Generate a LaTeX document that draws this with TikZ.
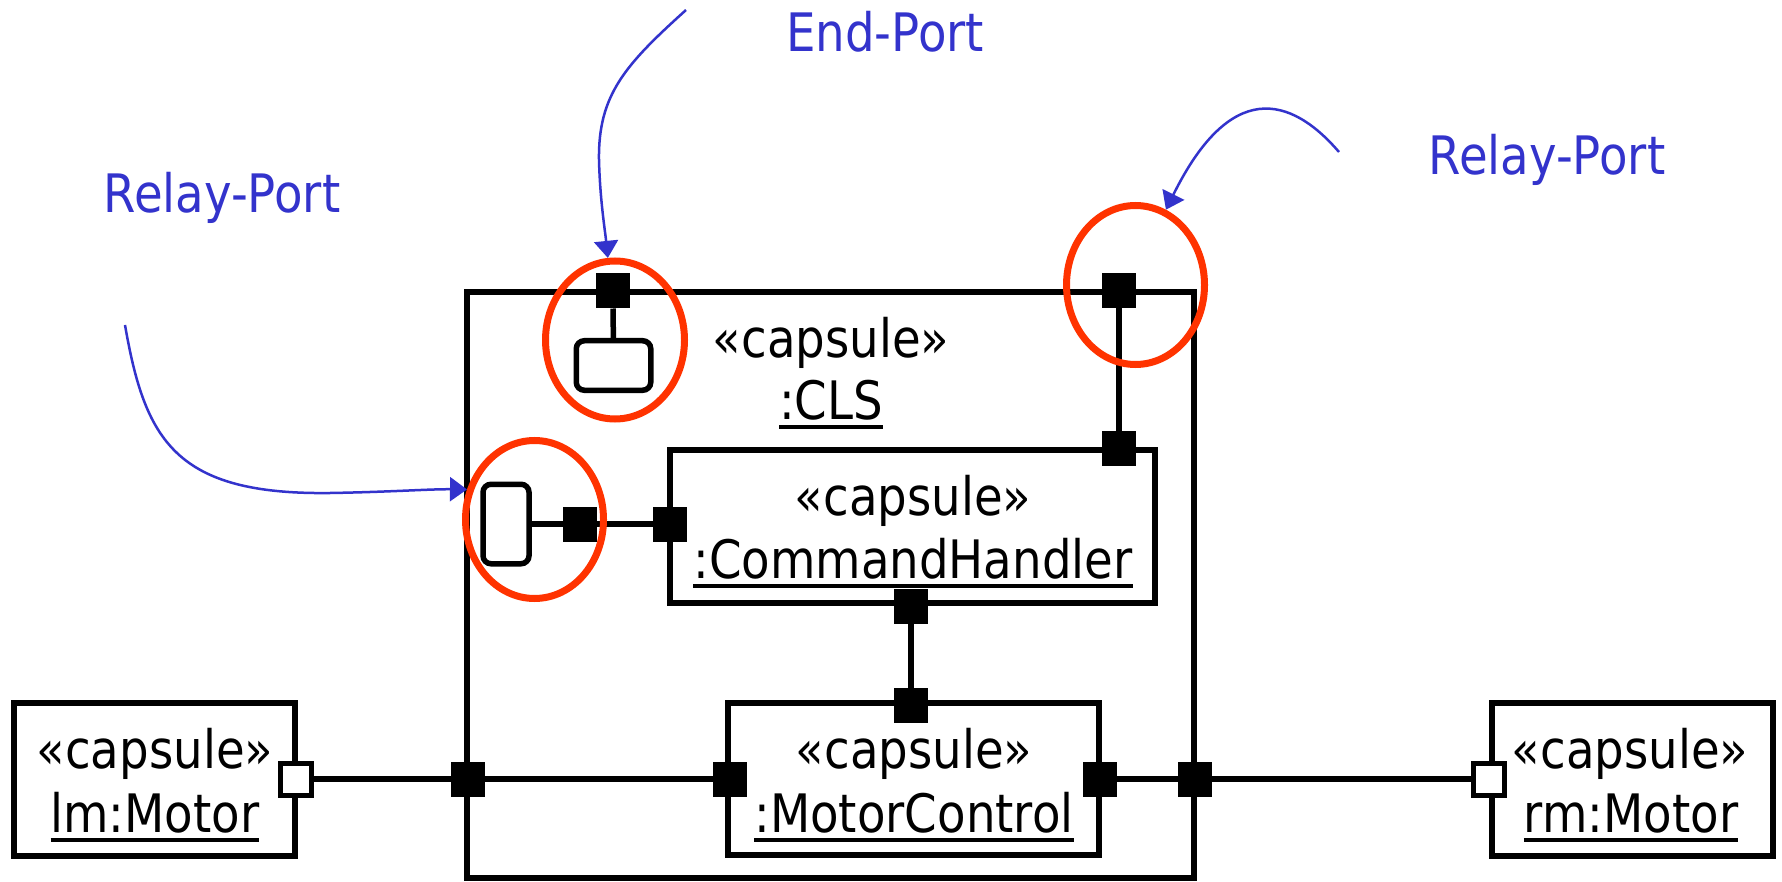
\documentclass[tikz,border=0pt]{standalone}
\usepackage{fontspec}
\setmainfont{DejaVu Sans}[FakeStretch=0.88]
\usetikzlibrary{arrows.meta,shapes.geometric}
\definecolor{annblue}{RGB}{51,51,204}
\definecolor{annred}{RGB}{255,51,0}
\newcommand\myul[1]{\vtop{\hbox{#1}\kern5.5pt\hrule height 4pt}}
\tikzset{
  capbox/.style={draw, line width=5.5pt, inner sep=0pt, outer sep=0pt},
  port/.style={fill=black, draw=none, inner sep=0pt, outer sep=0pt, minimum width=34pt, minimum height=35pt},
  wport/.style={fill=white, draw=black, line width=5pt, inner sep=0pt, outer sep=0pt, minimum width=31pt, minimum height=32pt},
  relaybox/.style={draw, line width=5.5pt, rounded corners=8pt, inner sep=0pt, outer sep=0pt},
  conn/.style={line width=5.5pt},
  redring/.style={ellipse, draw=annred, line width=7pt, inner sep=0pt},
  lbl/.style={anchor=base, inner sep=0pt, font=\fontsize{53}{63}\selectfont},
  note/.style={anchor=base, inner sep=0pt, text=annblue, font=\fontsize{53}{63}\selectfont},
  ann/.style={draw=annblue, line width=2.5pt, -{Triangle[length=17pt,width=24pt]}, fill=none},
}
\begin{document}
\begin{tikzpicture}[x=1pt,y=-1pt]
\path[fill=white] (0,0) rectangle (1782,882);
\useasboundingbox (0,0) rectangle (1782,882);

% capsule boxes
\node[capbox, minimum width=727pt, minimum height=586pt] (cls) at (830.5,585) {};
\node[capbox, minimum width=485pt, minimum height=153pt] (ch) at (912.5,526.5) {};
\node[capbox, minimum width=371pt, minimum height=152pt] (mc) at (913.5,779) {};
\node[capbox, minimum width=281pt, minimum height=153pt] (lm) at (154.5,779.5) {};
\node[capbox, minimum width=281pt, minimum height=153pt] (rm) at (1632.5,779.5) {};

% state-machine end boxes
\node[relaybox, minimum width=74.5pt, minimum height=49.5pt] (endsm) at (613.5,365.5) {};
\node[relaybox, minimum width=46pt, minimum height=79.5pt] (relsm) at (506,524) {};

% ports
\node[port] (pclsL) at (468,779) {};
\node[port] (pmcL) at (729.5,779) {};
\node[port] (pmcR) at (1100,779) {};
\node[port] (pclsR) at (1195,779) {};
\node[wport] (plm) at (296,779) {};
\node[wport] (prm) at (1489,779) {};
\node[port] (pchB) at (911,606) {};
\node[port] (pmcT) at (911,705) {};
\node[port] (pchT) at (1119,448) {};
\node[port] (pclsTR) at (1119,291) {};
\node[port] (pclsT) at (613,291) {};
\node[port] (prelL) at (580,524) {};
\node[port] (pchL) at (670,524) {};

% connectors
\draw[conn] (plm) -- (pclsL);
\draw[conn] (pclsL) -- (pmcL);
\draw[conn] (pmcR) -- (pclsR);
\draw[conn] (pclsR) -- (prm);
\draw[conn] (pchB) -- (pmcT);
\draw[conn] (pclsTR) -- (pchT);
\draw[conn] (pclsT) -- (endsm);
\draw[conn] (relsm) -- (prelL);
\draw[conn] (prelL) -- (pchL);

% texts
\node[lbl] (clsS) at (831,357) {«capsule»};
\node[lbl] (clsN) at (831,419) {\myul{:CLS}};
\node[lbl] (chS) at (913,515) {«capsule»};
\node[lbl] (chN) at (913,578) {\myul{:CommandHandler}};
\node[lbl] (mcS) at (914,768) {«capsule»};
\node[lbl] (mcN) at (914,832) {\myul{:MotorControl}};
\node[lbl] (lmS) at (155,768) {«capsule»};
\node[lbl] (lmN) at (155,832) {\myul{lm:Motor}};
\node[lbl] (rmS) at (1630,768) {«capsule»};
\node[lbl] (rmN) at (1631,832) {\myul{rm:Motor}};

% annotations
\node[redring, minimum width=139pt, minimum height=158pt] (e1) at (615,340) {};
\node[redring, minimum width=138pt, minimum height=159pt] (e2) at (1135.5,285) {};
\node[redring, minimum width=138pt, minimum height=158pt] (e3) at (534.5,519.5) {};

\node[note] (tEnd) at (885,52) {End-Port};
\node[note] (tRelL) at (222,213) {Relay-Port};
\node[note] (tRelR) at (1547,175) {Relay-Port};

\coordinate (a1) at (686,10);
\coordinate (a2) at (1339,152);
\coordinate (a3) at (125,325);
\draw[ann] (a1) .. controls (625,65) and (598,95) .. (599,160) .. controls (600,200) and (605,230) .. (e1.95);
\draw[ann] (a2) .. controls (1290,95) and (1230,80) .. (e2.68);
\draw[ann] (a3) .. controls (145,440) and (175,495) .. (330,493) .. controls (390,492) and (430,489) .. (e3.156);
\end{tikzpicture}
\end{document}
